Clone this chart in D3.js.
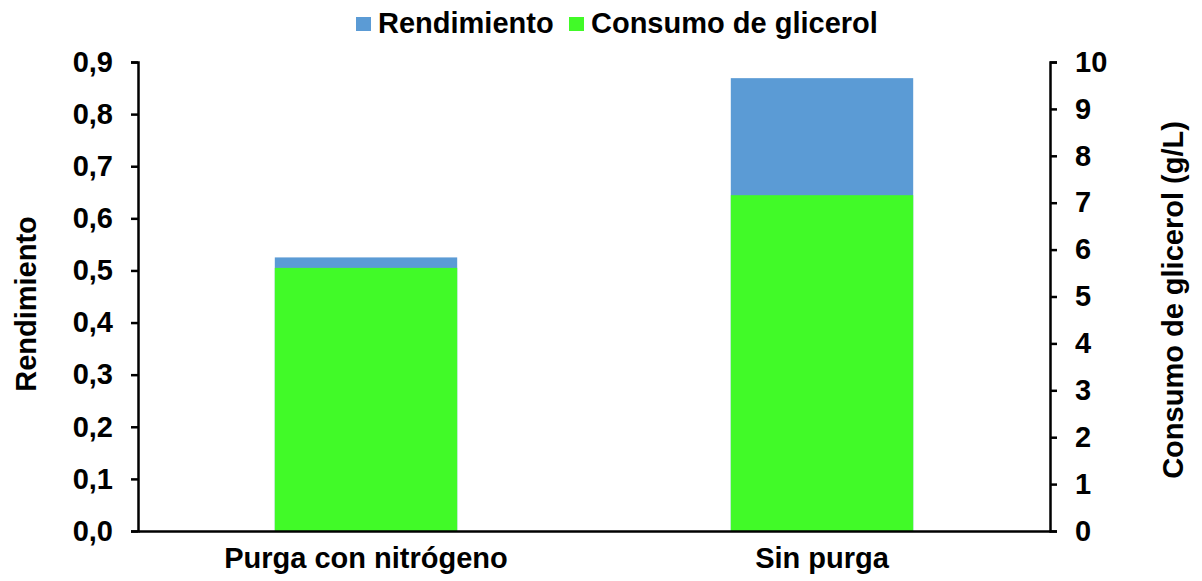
<!DOCTYPE html>
<html>
<head>
<meta charset="utf-8">
<script src="https://cdn.jsdelivr.net/npm/d3@7"></script>
<style>
  body { margin: 0; background: #fff; }
  text { font-family: "Liberation Sans", Arial, sans-serif; font-weight: bold; fill: #000; }
</style>
</head>
<body>
<svg id="chart" width="1202" height="581"></svg>
<script>
// datos
var categorias = ["Purga con nitrógeno", "Sin purga"];
var rendimiento = [0.525, 0.869];
var consumoGlicerol = [5.61, 7.16];
var ticksIzq = [0, 0.1, 0.2, 0.3, 0.4, 0.5, 0.6, 0.7, 0.8, 0.9];
var ticksDer = [0, 1, 2, 3, 4, 5, 6, 7, 8, 9, 10];
var serieNombres = ["Rendimiento", "Consumo de glicerol"];
var colores = ["#5b9bd5", "#41fa28"];

var fuente = "29px";
var margin = { top: 62, right: 152, bottom: 50, left: 138 };
var width = 1202 - margin.left - margin.right;
var height = 581 - margin.top - margin.bottom;

var svg = d3.select("#chart");
var g = svg.append("g").attr("transform", "translate(" + margin.left + "," + margin.top + ")");

var x = d3.scaleBand().domain(categorias).range([0, width]).paddingInner(0.6).paddingOuter(0.3);
var yIzq = d3.scaleLinear().domain([0, 0.9]).range([height, 0]);
var yDer = d3.scaleLinear().domain([0, 10]).range([height, 0]);

// barras rendimiento (detras)
g.selectAll(".bar.rend")
    .data(rendimiento)
    .enter().append("rect")
    .attr("class", "bar rend")
    .attr("x", function (d, i) { return x(categorias[i]); })
    .attr("width", x.bandwidth())
    .attr("y", function (d) { return yIzq(d); })
    .attr("height", function (d) { return height - yIzq(d); })
    .attr("fill", colores[0]);

// barras consumo (delante)
g.selectAll(".bar.cons")
    .data(consumoGlicerol)
    .enter().append("rect")
    .attr("class", "bar cons")
    .attr("x", function (d, i) { return x(categorias[i]); })
    .attr("width", x.bandwidth())
    .attr("y", function (d) { return yDer(d); })
    .attr("height", function (d) { return height - yDer(d); })
    .attr("fill", colores[1]);

// ejes
g.append("g")
    .attr("class", "y axis")
    .call(d3.axisLeft(yIzq).tickValues(ticksIzq).tickSize(7).tickPadding(18)
        .tickFormat(function (d) { return d3.format(".1f")(d).replace(".", ","); }));

g.append("g")
    .attr("class", "y2 axis")
    .attr("transform", "translate(" + width + ",0)")
    .call(d3.axisRight(yDer).tickValues(ticksDer).tickSize(7).tickPadding(18));

g.append("g")
    .attr("class", "x axis")
    .attr("transform", "translate(0," + height + ")")
    .call(d3.axisBottom(x).tickSize(0).tickPadding(16));

g.selectAll(".axis path, .axis line").attr("stroke", "#000").attr("stroke-width", 2.5);
g.selectAll(".axis text").style("font-size", fuente).style("font-family", "'Liberation Sans', Arial, sans-serif").style("font-weight", "bold");

// titulos de ejes
svg.append("text")
    .attr("transform", "translate(36,304) rotate(-90)")
    .attr("text-anchor", "middle")
    .style("font-size", fuente)
    .text("Rendimiento");

svg.append("text")
    .attr("transform", "translate(1183,300) rotate(-90)")
    .attr("text-anchor", "middle")
    .style("font-size", fuente)
    .text("Consumo de glicerol (g/L)");

// leyenda
var leyenda = svg.append("g").attr("class", "legend").attr("transform", "translate(356,17)");
var posLeyenda = [0, 213];
serieNombres.forEach(function (nombre, i) {
    leyenda.append("rect")
        .attr("x", posLeyenda[i])
        .attr("y", 0)
        .attr("width", 15)
        .attr("height", 14)
        .attr("fill", colores[i]);
    leyenda.append("text")
        .attr("x", posLeyenda[i] + 22)
        .attr("y", 16)
        .style("font-size", fuente)
        .text(nombre);
});
</script>
</body>
</html>
